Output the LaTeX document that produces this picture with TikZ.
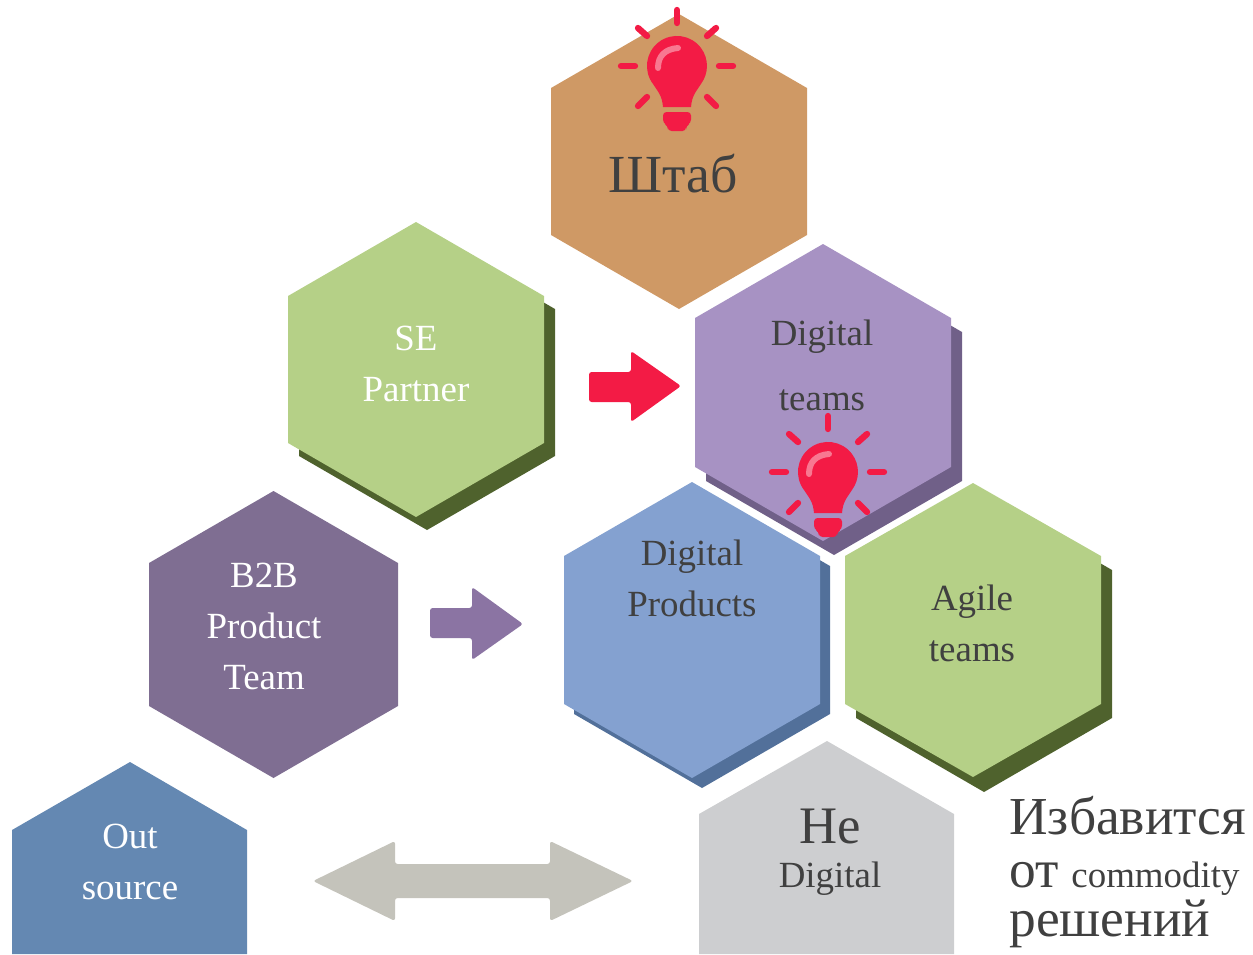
\documentclass[tikz,border=0pt]{standalone}
\usepackage{fontspec}
\setmainfont{Liberation Serif}

\definecolor{cshtab}{RGB}{207,153,101}
\definecolor{cgreen}{RGB}{181,208,135}
\definecolor{cgreendark}{RGB}{79,98,45}
\definecolor{clilac}{RGB}{167,146,195}
\definecolor{clilacdark}{RGB}{112,96,136}
\definecolor{cplum}{RGB}{127,110,146}
\definecolor{cplumarrow}{RGB}{139,116,163}
\definecolor{cblue}{RGB}{132,161,208}
\definecolor{cbluedark}{RGB}{82,112,154}
\definecolor{csteel}{RGB}{100,136,178}
\definecolor{csilver}{RGB}{205,206,208}
\definecolor{cgrayarrow}{RGB}{196,195,187}
\definecolor{cbulb}{RGB}{243,27,69}
\definecolor{cglow}{RGB}{248,120,145}
\definecolor{ctext}{RGB}{64,64,64}

\newcommand{\hexa}[6][]{\fill[#1] (#2,#4) -- ++(#3,#5) -- ++(0,#6) -- ++(-#3,#5) -- ++(-#3,-#5) -- ++(0,-#6) -- cycle;}

\tikzset{
  label21/.style={align=center,text=ctext,font=\fontsize{21}{29}\selectfont,inner sep=0pt},
  label21w/.style={label21,text=white},
  ray/.style={cbulb,line width=3.6pt,line cap=round},
  blockarrow/.style={rounded corners=1.5pt},
  bulb/.pic={
    \fill[cbulb] (-24,18) arc[start angle=143,end angle=397,radius=30]
      .. controls (18,27) and (15,30) .. (14,41) -- (-14,41) .. controls (-15,30) and (-18,27) .. (-24,18) -- cycle;
    \fill[cbulb,rounded corners=2pt] (-14,46) -- (14,46) -- (14,57) -- (9,60) -- (9,65) -- (-9,65) -- (-9,60) -- (-14,57) -- cycle;
    \draw[cglow,line width=3.4pt,line cap=round] (-19,2) .. controls (-19,-10) and (-12,-17) .. (1,-18);
    \draw[ray] (0,-56) -- (0,-43);
    \draw[ray] (-42,0) -- (-56,0);
    \draw[ray] (42,0) -- (56,0);
    \draw[ray] (-39,-38) -- (-30,-30);
    \draw[ray] (39,-38) -- (30,-30);
    \draw[ray] (-30,31) -- (-39,40);
    \draw[ray] (30,31) -- (39,40);
  }
}

\begin{document}
\begin{tikzpicture}[x=0.02cm,y=-0.02cm]
        \useasboundingbox (0,0) rectangle (1253,954);
        % shadows
        \hexa[cgreendark]{427}{128}{235}{74}{147}
        \hexa[clilacdark]{834}{128}{258}{74}{149}
        \hexa[cbluedark]{702}{128}{492}{74}{148}
        \hexa[cgreendark]{984}{128}{496}{74}{148}
        % hexagons
        \hexa[cshtab]{679}{128}{14}{74}{147}
        \hexa[cgreen]{416}{128}{222}{74}{147}
        \hexa[clilac]{823}{128}{244}{74}{149}
        \hexa[cplum]{273.5}{124.5}{491}{72}{143}
        \hexa[cblue]{692}{128}{482}{74}{148}
        \hexa[cgreen]{973}{128}{483}{73}{148}
        \fill[csteel] (130,762) -- (247,830) -- (247,954) -- (12,954) -- (12,830) -- cycle;
        \fill[csilver] (827,741) -- (954,814) -- (954,954) -- (699,954) -- (699,814) -- cycle;
        % arrows
        \fill[cbulb,blockarrow] (589,372) -- (631,372) -- (631,351) -- (681,386) -- (631,422) -- (631,402) -- (589,402) -- cycle;
        \fill[cplumarrow,blockarrow] (430,608) -- (472,608) -- (472,587) -- (523,624) -- (472,660) -- (472,638) -- (430,638) -- cycle;
        \fill[cgrayarrow,blockarrow] (313,881) -- (395,841) -- (395,864) -- (550,864) -- (550,841) -- (633,881) -- (550,921) -- (550,898) -- (395,898) -- (395,921) -- cycle;
        % bulbs
        \pic at (677,66) {bulb};
        \pic at (828,472) {bulb};
        % labels
        \node[label21,font=\fontsize{30.5}{36}\selectfont] (shtab) at (673,174) {Штаб};
        \node[label21w] (separtner) at (416,364) {SE\\Partner};
        \node[label21] (digitalteams) at (822,365) {Digital\\[8pt]teams};
        \node[label21w] (btobteam) at (264,626) {B2B\\Product\\Team};
        \node[label21] (digitalproducts) at (692,578) {Digital\\Products};
        \node[label21] (agileteams) at (972,623) {Agile\\teams};
        \node[label21w] (outsource) at (130,862) {Out\\source};
        \node[label21,font=\fontsize{30}{30}\selectfont] (ne) at (830,826) {Не};
        \node[label21] (nedigital) at (830,879) {Digital};
        \node[label21,align=left,anchor=north west,font=\fontsize{21}{29}\selectfont] (riddance) at (1009,796)
          {{\fontsize{30.4}{30}\selectfont Избавится}\\[1pt]{\fontsize{30.4}{30}\selectfont от}\hspace{2pt} commodity\\[-1pt]{\fontsize{30.4}{30}\selectfont решений}};
\end{tikzpicture}
\end{document}
